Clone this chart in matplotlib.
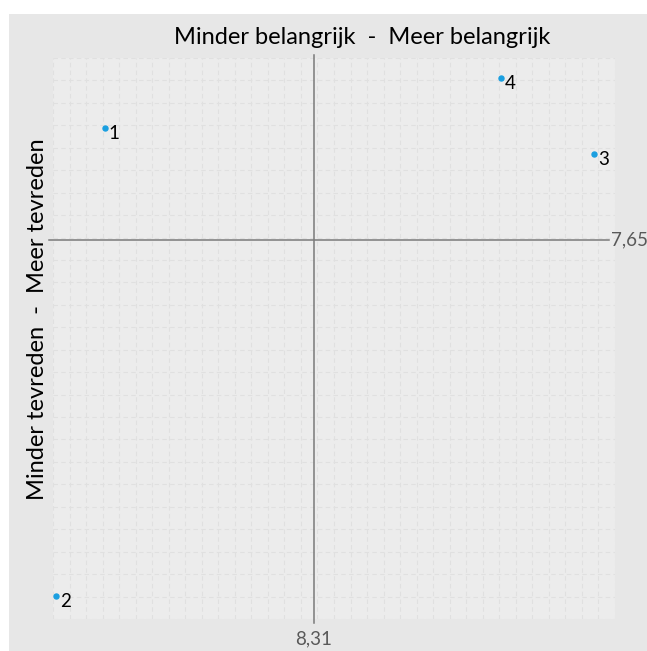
import numpy as np
import matplotlib.pyplot as plt
from matplotlib.patches import Rectangle

plt.rcParams['font.family'] = ['Lato', 'DejaVu Sans']

# data: belang (x) en tevredenheid (y) per item
labels = ['1', '2', '3', '4']
belang = [7.66, 7.51, 9.18, 8.89]
tevredenheid = [7.99, 6.57, 7.91, 8.14]

# kruispunt (gemiddelden)
x_mid = 8.31
y_mid = 7.65
x_lim = [7.50, 9.244]
y_lim = [6.50, 8.202]

fig = plt.figure(figsize=(6.47, 6.51), dpi=100)
fig.patch.set_facecolor('white')
fig.patches.append(Rectangle((9/647, 0), 1, 1-14/651, transform=fig.transFigure,
                             facecolor='#e7e7e7', edgecolor='none', zorder=-10))

ax = fig.add_axes([53/647, 32/651, 562/647, 561/651])
ax.set_facecolor('#ececec')
ax.set_xlim(x_lim); ax.set_ylim(y_lim)

# dashed grid
for gx in np.linspace(x_lim[0], x_lim[1], 35):
    ax.axvline(gx, color='#e0e0e0', lw=0.8, ls=(0, (4, 3)), zorder=0)
for gy in np.linspace(y_lim[0], y_lim[1], 26):
    ax.axhline(gy, color='#e0e0e0', lw=0.8, ls=(0, (4, 3)), zorder=0)

for s in ax.spines.values():
    s.set_visible(False)
ax.set_xticks([]); ax.set_yticks([])

# kruis
ax.axvline(x_mid, ymin=-0.007, ymax=1.006, color='#7a7a7a', lw=1.1, clip_on=False, zorder=2)
ax.axhline(y_mid, xmin=-0.008, xmax=0.989, color='#7a7a7a', lw=1.1, clip_on=False, zorder=2)
ax.annotate('8,31', (x_mid, 0), xycoords=('data', 'axes fraction'),
            xytext=(0, -14.5), textcoords='offset points', ha='center', va='center',
            fontsize=13.5, color='#595959', annotation_clip=False)
ax.annotate('7,65', (0.989, y_mid), xycoords=('axes fraction', 'data'),
            xytext=(1.5, 0), textcoords='offset points', ha='left', va='center',
            fontsize=13.5, color='#595959', annotation_clip=False)

ax.plot(belang, tevredenheid, 'o', color='#1a9fe0', markersize=3.6, zorder=3)
for lab, x, y in zip(labels, belang, tevredenheid):
    ax.annotate(lab, (x, y), xytext=(3, -4), textcoords='offset points',
                ha='left', va='center', fontsize=13.5, color='black')

fig.text(362/647, 1-38/651, 'Minder belangrijk  -  Meer belangrijk', ha='center', va='center',
         fontsize=17, color='black')
fig.text(38/647, 1-319/651, 'Minder tevreden  -  Meer tevreden', ha='center', va='center',
         rotation=90, fontsize=17, color='black')

fig.savefig('out.png', dpi=100)
